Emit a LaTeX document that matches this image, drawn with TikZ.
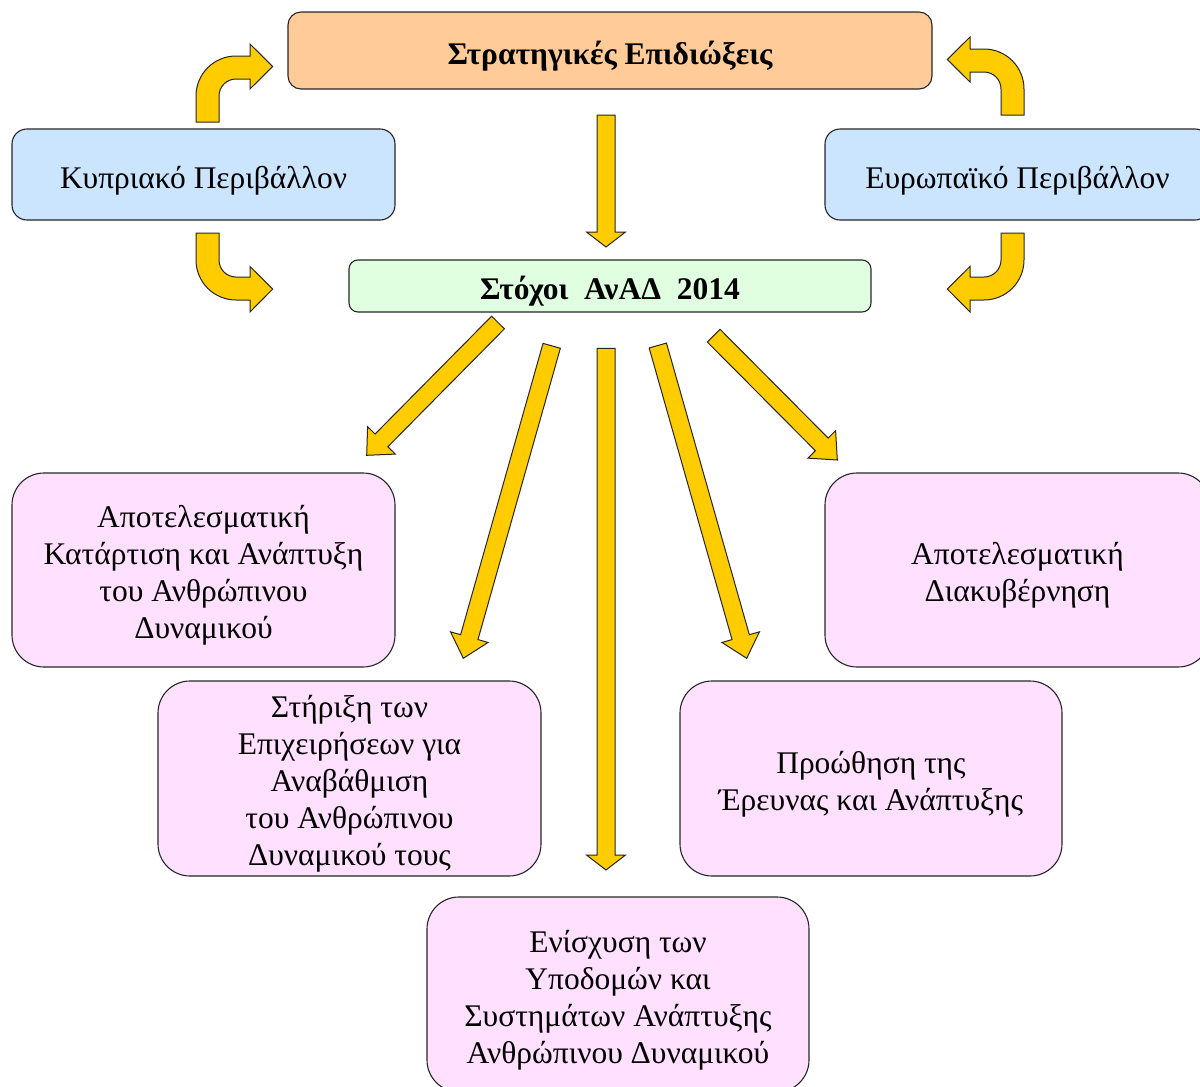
\documentclass[tikz,border=0pt]{standalone}
\usepackage{fontspec}
\setmainfont{Liberation Serif}
\usetikzlibrary{calc}

\definecolor{peach}{HTML}{FFCC99}
\definecolor{skyblue}{HTML}{CCE5FF}
\definecolor{mint}{HTML}{E0FFE0}
\definecolor{lilac}{HTML}{FFE0FF}
\definecolor{gold}{HTML}{FFCC00}
\definecolor{edge}{HTML}{262626}

\newcommand{\topgap}{\rule{0pt}{35pt}}

\tikzset{
  box/.style={draw=edge, line width=1.1pt, align=center, inner sep=0pt,
    font=\fontsize{31.5}{37}\selectfont,
    execute at begin node={\rule{0pt}{36pt}},
    execute at end node={\rule[-9pt]{0pt}{0pt}}},
  multibox/.style={box, fill=lilac, rounded corners=32pt},
  barrow/.style={draw=edge, line width=1pt, fill=gold, line join=miter},
}

% block arrow from #2 to tip #3, head length #1
\newcommand{\blockarrow}[3][20]{%
  \draw[barrow] let \p1=($(#3)-(#2)$), \n1={atan2(\y1,\x1)},
      \n2={veclen(\x1,\y1)-#1} in
    ($(#2)+(\n1+90:9pt)$) -- ++(\n1:\n2) -- ++(\n1+90:10.5pt) -- (#3)
    -- ($(#3)+(\n1+180:#1 pt)+(\n1-90:19.5pt)$) -- ++(\n1+90:10.5pt)
    -- ++(\n1+180:\n2) -- cycle;}

\begin{document}
\begin{tikzpicture}[x=1pt,y=-1pt]
\useasboundingbox (0,0) rectangle (1200,1087);
\clip (0,0) rectangle (1200,1087);

\node[box, fill=peach, rounded corners=13pt, minimum width=644pt, minimum height=77pt,
  font=\fontsize{31.5}{37}\selectfont\bfseries] at (610, 50.5) (aims) {Στρατηγικές Επιδιώξεις};
\node[box, fill=skyblue, rounded corners=15pt, minimum width=383pt, minimum height=91pt]
  at (203.5, 174.5) (cyprus) {Κυπριακό Περιβάλλον};
\node[box, fill=skyblue, rounded corners=15pt, minimum width=385pt, minimum height=91pt]
  at (1017.5, 174.5) (europe) {Ευρωπαϊκό Περιβάλλον};
\node[box, fill=mint, rounded corners=9pt, minimum width=522pt, minimum height=52pt,
  font=\fontsize{31.5}{37}\selectfont\bfseries] at (610, 286) (goals) {Στόχοι~ ΑνΑΔ~ 2014};

\node[multibox, minimum width=383pt, minimum height=194pt]
  at (203.5, 570) (train) {\topgap Αποτελεσματική\\Κατάρτιση και Ανάπτυξη\\του Ανθρώπινου\\Δυναμικού};
\node[multibox, minimum width=385pt, minimum height=194pt]
  at (1017.5, 570) (gov) {\topgap Αποτελεσματική\\Διακυβέρνηση};
\node[multibox, minimum width=383pt, minimum height=195pt]
  at (349.5, 778.5) (firms) {\topgap Στήριξη των\\Επιχειρήσεων για\\Αναβάθμιση\\του Ανθρώπινου\\Δυναμικού τους};
\node[multibox, minimum width=382pt, minimum height=195pt]
  at (871, 778.5) (research) {\topgap Προώθηση της\\Έρευνας και Ανάπτυξης};
\node[multibox, minimum width=382pt, minimum height=195pt]
  at (618, 994.5) (infra) {\topgap Ενίσχυση των\\Υποδομών και\\Συστημάτων Ανάπτυξης\\Ανθρώπινου Δυναμικού};

% straight arrows
\coordinate (a0s) at (606, 115);   \coordinate (a0t) at (606, 247);
\coordinate (a1s) at (498, 322.5); \coordinate (a1t) at (366.7, 455.3);
\coordinate (a2s) at (551.7, 345.8); \coordinate (a2t) at (463.3, 658.3);
\coordinate (a3s) at (606, 348.3); \coordinate (a3t) at (606, 870);
\coordinate (a4s) at (657.8, 345.5); \coordinate (a4t) at (746.7, 658.3);
\coordinate (a5s) at (713.7, 335.7); \coordinate (a5t) at (837.3, 460);
\blockarrow[15]{a0s}{a0t}
\blockarrow[21]{a1s}{a1t}
\blockarrow[22]{a2s}{a2t}
\blockarrow[15]{a3s}{a3t}
\blockarrow[22]{a4s}{a4t}
\blockarrow[22]{a5s}{a5t}

% bent arrows
\draw[barrow] (196,122) -- (196,96) arc[start angle=180, end angle=270, radius=40]
  -- (250,56) -- (250,44) -- (272.7,66.5) -- (250,89) -- (250,79) -- (236,79)
  arc[start angle=270, end angle=180, radius=17] -- (219,122) -- cycle;
\draw[barrow] (196,233) -- (196,260) arc[start angle=180, end angle=90, radius=40]
  -- (250,300) -- (250,312) -- (272.7,289) -- (250,266.5) -- (250,277) -- (236,277)
  arc[start angle=90, end angle=180, radius=17] -- (219,233) -- cycle;
\draw[barrow] (1024,115) -- (1024,89) arc[start angle=0, end angle=-90, radius=40]
  -- (970,49) -- (970,37) -- (947.3,59.5) -- (970,82) -- (970,72) -- (984,72)
  arc[start angle=-90, end angle=0, radius=17] -- (1001,115) -- cycle;
\draw[barrow] (1024,233) -- (1024,260) arc[start angle=0, end angle=90, radius=40]
  -- (970,300) -- (970,312) -- (947.3,289) -- (970,266.5) -- (970,277) -- (984,277)
  arc[start angle=90, end angle=0, radius=17] -- (1001,233) -- cycle;
\end{tikzpicture}
\end{document}
